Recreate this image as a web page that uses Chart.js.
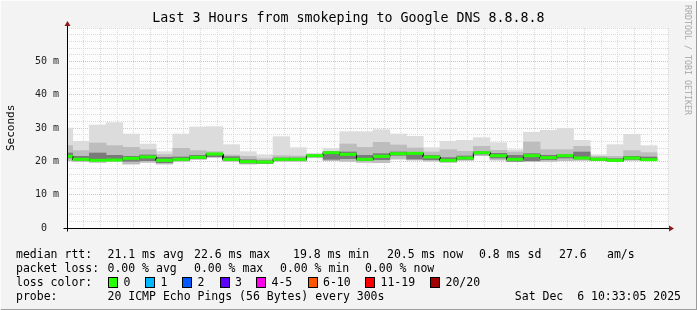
<!DOCTYPE html>
<html>
<head>
<meta charset="utf-8">
<script src="https://cdn.jsdelivr.net/npm/chart.js@4.4.1/dist/chart.umd.min.js"></script>
<style>
html, body { margin: 0; padding: 0; }
body { width: 697px; height: 310px; position: relative; overflow: hidden; background: #f3f3f3;
       font-family: "DejaVu Sans Mono", monospace; color: #000; }
#frame { position: absolute; left: 0; top: 0; width: 695px; height: 308px;
         border-left: 1px solid #fdfdfd; border-top: 1px solid #fdfdfd;
         border-right: 3px solid #9c9c9c; border-bottom: 3px solid #9c9c9c; box-sizing: content-box; }
#chart { position: absolute; left: 0; top: 0; }
.t { position: absolute; white-space: pre; font-size: 11.5px; line-height: 14px; }
#title { position: absolute; left: 0; width: 697px; top: 10px; text-align: center; font-size: 13.3px; white-space: pre; }
#ylab { position: absolute; left: 5px; top: 151px; font-size: 11px; line-height: 12px; color: #000;
        transform-origin: 0 0; transform: rotate(-90deg); white-space: pre; }
#rrd { position: absolute; left: 692px; top: 5px; font-size: 8.3px; line-height: 9px; color: #a8a8a8;
       transform-origin: 0 0; transform: rotate(90deg); white-space: pre; }
.box { position: absolute; width: 8px; height: 9px; border: 1px solid #000; }
</style>
</head>
<body>
<div id="frame"></div>
<canvas id="chart" width="697" height="310"></canvas>
<div id="title">Last 3 Hours from smokeping to Google DNS 8.8.8.8</div>
<div id="ylab">Seconds</div>
<div id="rrd">RRDTOOL / TOBI OETIKER</div>
<div id="legend"></div>
<script>
// 5 minute slots, start time of each
const slotStart = ['07:30', '07:35', '07:40', '07:45', '07:50', '07:55', '08:00', '08:05', '08:10', '08:15',
                   '08:20', '08:25', '08:30', '08:35', '08:40', '08:45', '08:50', '08:55', '09:00', '09:05',
                   '09:10', '09:15', '09:20', '09:25', '09:30', '09:35', '09:40', '09:45', '09:50', '09:55',
                   '10:00', '10:05', '10:10', '10:15', '10:20', '10:25'];

// ms values read from the smoke
const rttMax    = [30.0, 26.0, 30.9, 31.6, 28.2, 25.2, 22.9, 28.2, 30.3, 30.4, 25.0, 22.9, 21.9, 27.4, 24.1, 22.4, 23.9, 28.9,
                   28.9, 29.5, 28.2, 27.5, 24.1, 26.0, 26.3, 27.1, 25.6, 23.5, 28.7, 29.3, 29.9, 26.3, 21.9, 25.0, 28.1, 24.7];
const rttUpper  = [24.7, 23.2, 25.5, 24.7, 24.2, 23.5, 22.0, 23.9, 23.2, 22.9, 21.9, 21.5, 20.8, 21.7, 21.6, 22.0, 22.8, 25.2,
                   24.2, 25.7, 24.9, 24.0, 22.8, 23.5, 23.0, 24.5, 23.3, 22.8, 25.8, 23.5, 23.5, 24.5, 21.5, 21.5, 23.2, 22.6];
const coreHi    = [22.5, 21.5, 22.5, 21.8, 21.5, 21.9, 21.2, 21.3, 21.8, 22.4, 21.4, 20.5, 20.2, 21.0, 21.0, 21.9, 22.9, 22.8,
                   21.8, 22.3, 22.8, 22.6, 21.8, 21.1, 21.6, 22.9, 22.4, 21.8, 22.3, 21.8, 22.0, 22.8, 21.0, 20.8, 21.5, 21.3];
const coreLo    = [21.0, 20.3, 20.2, 20.2, 20.0, 20.2, 19.6, 20.3, 20.8, 21.4, 20.3, 19.5, 19.4, 20.3, 20.3, 21.4, 20.6, 20.8,
                   20.2, 20.5, 21.8, 20.7, 20.5, 20.0, 20.6, 22.2, 21.0, 20.0, 20.2, 20.5, 21.0, 20.7, 20.3, 20.0, 20.6, 20.3];
const rttMedian = [21.5, 20.6, 20.3, 20.4, 20.9, 21.3, 20.3, 20.6, 21.2, 22.2, 20.6, 19.9, 19.8, 20.6, 20.6, 21.7, 22.6, 22.1,
                   20.6, 21.5, 22.3, 22.4, 21.3, 20.3, 21.0, 22.6, 21.7, 20.6, 21.7, 21.1, 21.7, 21.0, 20.6, 20.3, 21.0, 20.5];
const rttMin    = [20.2, 19.9, 19.7, 19.9, 19.2, 19.7, 19.2, 20.0, 20.6, 21.2, 20.0, 19.2, 19.3, 20.0, 20.0, 21.1, 20.2, 20.0,
                   19.7, 19.6, 20.7, 20.4, 20.1, 19.7, 20.3, 21.7, 20.4, 19.9, 19.9, 20.0, 20.2, 20.3, 20.2, 19.9, 20.3, 20.2];

const yTicks = [0, 10, 20, 30, 40, 50];
const xTicks = ['07:40', '08:00', '08:20', '08:40', '09:00', '09:20', '09:40', '10:00', '10:20'];

const lossColors = [['0', '#26ff00'], ['1', '#00b8ff'], ['2', '#0059ff'], ['3', '#5e00ff'],
                    ['4-5', '#ff00ea'], ['6-10', '#ff5500'], ['11-19', '#ff0000'], ['20/20', '#a10000']];

const toMin = s => { const [h, m] = s.split(':').map(Number); return h * 60 + m; };
const fmt = v => String(Math.floor(v / 60)).padStart(2, '0') + ':' + String(v % 60).padStart(2, '0');
const mins = slotStart.map(toMin);
const xLabelSet = new Set(xTicks.map(toMin));

const band = (lo, hi) => mins.map((m, i) => ({ x: m + 2.5, y: [lo[i], hi[i]] }));
const steps = [];
mins.forEach((m, i) => { steps.push({ x: m, y: rttMedian[i] }, { x: m + 5, y: rttMedian[i] }); });

const barBase = { type: 'bar', grouped: false, borderWidth: 0, categoryPercentage: 1, barPercentage: 1, clip: 0 };

const frame = {
    id: 'frame',
    beforeDraw(chart) {
        const { ctx, chartArea: a } = chart;
        ctx.save();
        ctx.fillStyle = '#fcfcfc';
        ctx.fillRect(a.left, a.top, a.right - a.left, a.bottom - a.top);
        ctx.restore();
    },
    afterDraw(chart) {
        const { ctx, chartArea: a } = chart;
        const x0 = Math.round(a.left) + 0.5, y0 = Math.round(a.bottom) + 0.5;
        ctx.save();
        ctx.strokeStyle = '#000';
        ctx.lineWidth = 1;
        ctx.beginPath();
        ctx.moveTo(x0, y0 + 3); ctx.lineTo(x0, a.top - 3);
        ctx.moveTo(x0 - 4, y0); ctx.lineTo(a.right + 2, y0);
        ctx.stroke();
        ctx.fillStyle = '#8a1a1a';
        ctx.beginPath();
        ctx.moveTo(x0, a.top - 7); ctx.lineTo(x0 - 3, a.top - 2); ctx.lineTo(x0 + 3, a.top - 2);
        ctx.fill();
        ctx.beginPath();
        ctx.moveTo(a.right + 6, y0); ctx.lineTo(a.right + 1, y0 - 3); ctx.lineTo(a.right + 1, y0 + 3);
        ctx.fill();
        ctx.restore();
    }
};

new Chart(document.getElementById('chart'), {
    type: 'bar',
    data: {
        datasets: [
            { type: 'line', data: steps, borderColor: '#26ff00', borderWidth: 3, pointRadius: 0, clip: 0,
              borderCapStyle: 'butt',
              segment: { borderColor: c => c.p0.parsed.x === c.p1.parsed.x ? 'rgba(0,0,0,0)' : '#26ff00' } },
            { type: 'line', data: steps, borderColor: '#000', borderWidth: 1, pointRadius: 0, clip: 0 },
            { ...barBase, data: band(coreLo, coreHi), backgroundColor: '#7a7a7a' },
            { ...barBase, data: band(rttMin, rttUpper), backgroundColor: '#bdbdbd' },
            { ...barBase, data: band(rttMin, rttMax), backgroundColor: '#dcdcdc' }
        ]
    },
    options: {
        responsive: false,
        animation: false,
        events: [],
        layout: { padding: { left: 0, right: 29, top: 28, bottom: 0 } },
        plugins: { legend: { display: false }, tooltip: { enabled: false } },
        scales: {
            x: {
                type: 'linear', min: 453.3, max: 633.3, offset: false, z: 1,
                afterFit: s => { s.height = 82; },
                border: { display: false, dash: [1, 1] },
                grid: { offset: false, drawTicks: false, lineWidth: 1,
                        color: c => xLabelSet.has(c.tick && c.tick.value) ? '#f2b6b6' : '#dadada' },
                ticks: { stepSize: 5, autoSkip: false, maxRotation: 0, includeBounds: false, padding: 5,
                         color: '#222', font: { family: 'DejaVu Sans Mono', size: 10 },
                         callback: v => xLabelSet.has(v) ? fmt(v) : '' }
            },
            y: {
                min: 0, max: 60, z: 1,
                afterFit: s => { s.width = 67; },
                border: { display: false, dash: [1, 1] },
                grid: { drawTicks: false, lineWidth: 1,
                        color: c => (c.tick && c.tick.value % 10 === 0 && c.tick.value < 60) ? '#f2b6b6' : '#dadada' },
                ticks: { stepSize: 2, autoSkip: false, padding: 8, color: '#222',
                         font: { family: 'DejaVu Sans Mono', size: 10 },
                         callback: v => !yTicks.includes(v) ? '' : (v === 0 ? '0  ' : v + ' m') }
            }
        }
    },
    plugins: [frame]
});

// legend text below the plot
const rows = [
    [254, [[16, 'median rtt:'], [107.5, '21.1 ms avg'], [194, '22.6 ms max'], [293, '19.8 ms min'],
           [387, '20.5 ms now'], [479, '0.8 ms sd'], [559, '27.6'], [607, 'am/s']]],
    [268, [[16, 'packet loss:'], [107.5, '0.00 % avg'], [194, '0.00 % max'], [280, '0.00 % min'], [365, '0.00 % now']]],
    [282, [[16, 'loss color:']]],
    [296, [[16, 'probe:'], [107.5, '20 ICMP Echo Pings (56 Bytes) every 300s']]]
];
const boxX = [108, 145, 182, 219.5, 256, 307.5, 365, 430];
const lg = document.getElementById('legend');
function addText(x, y, txt, right) {
    const d = document.createElement('div');
    d.className = 't';
    d.textContent = txt;
    d.style.top = (y - 7) + 'px';
    if (right) d.style.right = (697 - x) + 'px'; else d.style.left = x + 'px';
    lg.appendChild(d);
}
rows.forEach(([y, items]) => items.forEach(([x, txt]) => addText(x, y, txt)));
lossColors.forEach(([label, col], i) => {
    const b = document.createElement('div');
    b.className = 'box';
    b.style.left = boxX[i] + 'px';
    b.style.top = '277px';
    b.style.background = col;
    lg.appendChild(b);
    addText(boxX[i] + 15.5, 282, label);
});
addText(681, 296, 'Sat Dec  6 10:33:05 2025', true);
</script>
</body>
</html>
